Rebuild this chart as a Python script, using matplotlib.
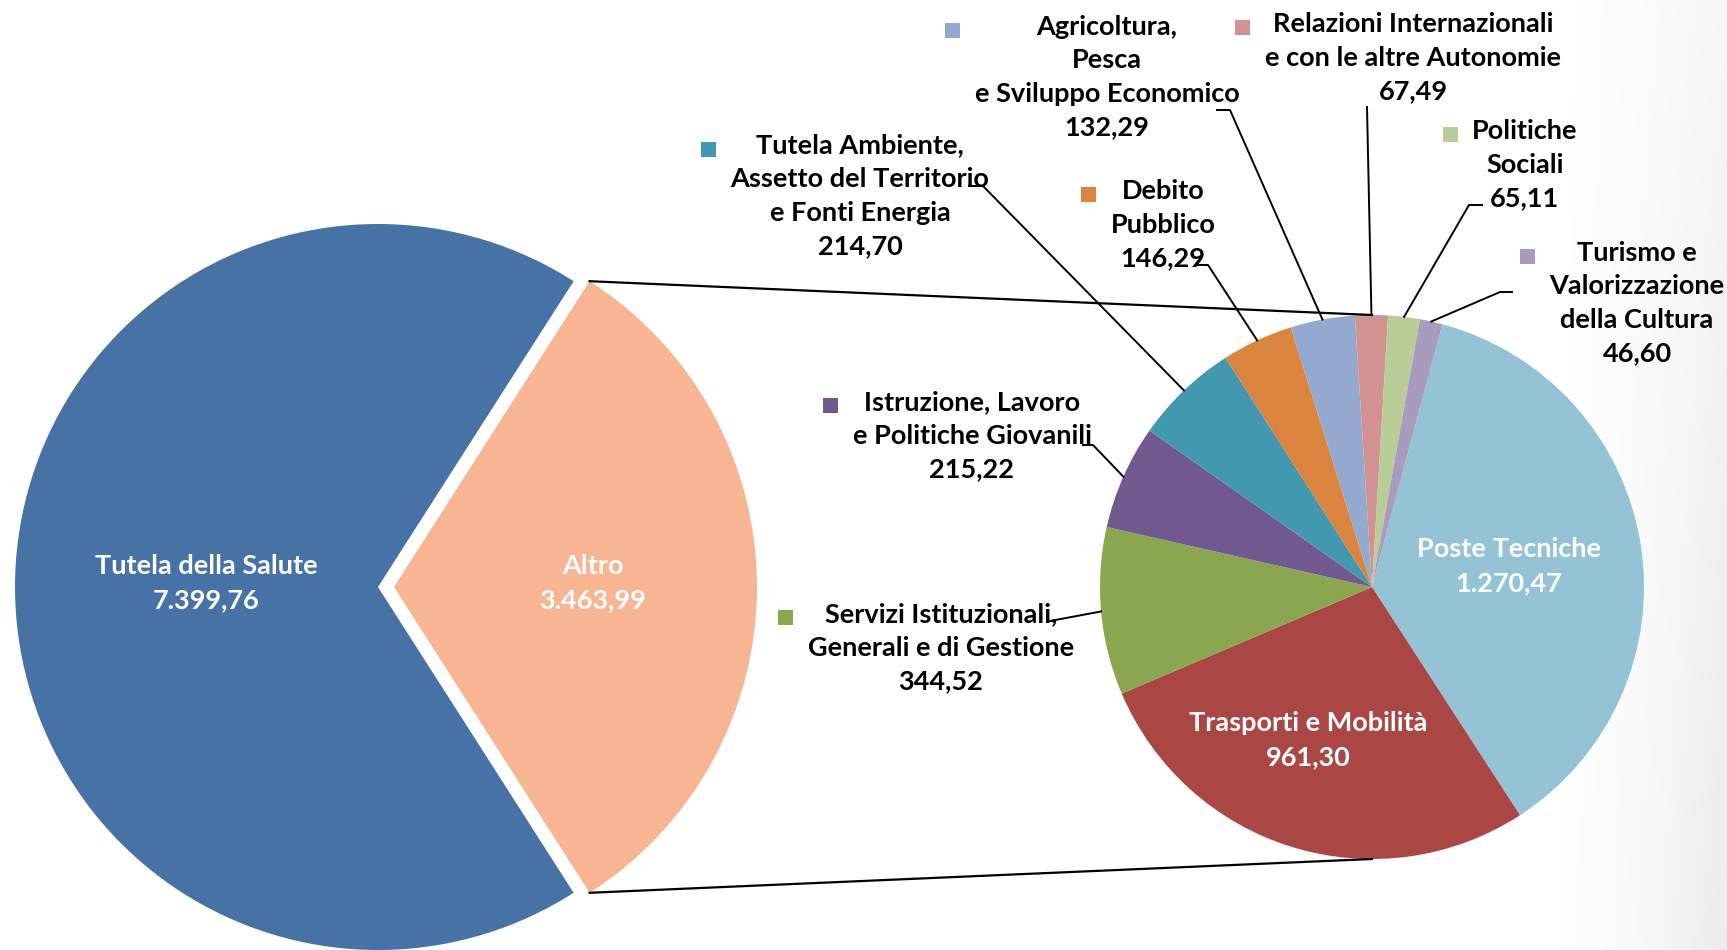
import numpy as np
import matplotlib.pyplot as plt
from matplotlib.patches import Rectangle

# --- data ---
main_labels = ["Altro", "Tutela della Salute"]
main_values = [3463.99, 7399.76]
main_value_text = ["3.463,99", "7.399,76"]
main_colors = ["#F8B592", "#4672A6"]

sub_labels = [
    "Poste Tecniche",
    "Trasporti e Mobilità",
    "Servizi Istituzionali,\nGenerali e di Gestione",
    "Istruzione, Lavoro\ne Politiche Giovanili",
    "Tutela Ambiente,\nAssetto del Territorio\ne Fonti Energia",
    "Debito\nPubblico",
    "Agricoltura,\nPesca\ne Sviluppo Economico",
    "Relazioni Internazionali\ne con le altre Autonomie",
    "Politiche\nSociali",
    "Turismo e\nValorizzazione\ndella Cultura",
]
sub_values = [1270.47, 961.30, 344.52, 215.22, 214.70, 146.29, 132.29, 67.49, 65.11, 46.60]
sub_value_text = ["1.270,47", "961,30", "344,52", "215,22", "214,70",
                  "146,29", "132,29", "67,49", "65,11", "46,60"]
sub_colors = ["#93C3D5", "#AA4644", "#8AA64F", "#71588F", "#4298AF",
              "#DB843D", "#93A9CF", "#D19392", "#B9CD96", "#A99BBD"]

# label layout (pixel coordinates, y from top)
sub_inside = [True, True] + [False] * 8
sub_label_pos = [(1509, 566), (1308, 740), (941, 648), (972, 436), (860, 196),
                 (1163, 225), (1107, 77), (1413, 58), (1525, 165), (1637, 303)]
sub_leader_start = [None, None,
                    [(1050, 621)],
                    [(1083, 445), (1093, 445)],
                    [(969, 186), (983, 186)],
                    [(1198, 265), (1208, 265)],
                    [(1217, 110), (1230, 110)],
                    [(1367, 107)],
                    [(1482, 205), (1469, 205)],
                    [(1512, 292), (1500, 292)]]

W, H = 1727, 950
plt.rcParams['font.family'] = ['Lato', 'DejaVu Sans']
fig = plt.figure(figsize=(W / 100, H / 100), dpi=100)
ax = fig.add_axes([0, 0, 1, 1])

# faint grey shading on the right edge
xs = np.linspace(0, 1, 200)
ys = np.linspace(0, 1, 200)
gx, gy = np.meshgrid(xs, ys)
shade = 1 - 0.075 * gx ** 1.6 * (0.5 + 0.5 * gy)
img = np.dstack([shade, shade, shade])
ax.imshow(img, extent=[1530, W, 0, H], origin='upper', aspect='auto', zorder=0)

# main pie (Altro pulled out towards the right)
c1, r1 = (378, 363), 363
gap = 16
altro_frac = main_values[0] / sum(main_values)
ax.pie(main_values, colors=main_colors, startangle=-180 * altro_frac,
       explode=[gap, 0], center=c1, radius=r1, counterclock=True,
       wedgeprops=dict(linewidth=0), frame=True)

# secondary pie
c2, r2 = (1372, 363), 272
wedges, _ = ax.pie(sub_values, colors=sub_colors, startangle=75, counterclock=False,
                   center=c2, radius=r2, wedgeprops=dict(linewidth=0), frame=True)
ax.set_xlim(0, W)
ax.set_ylim(0, H)
ax.set_aspect('equal')
ax.axis('off')

fs = 19.5
ls = 1.48

# connector lines between the pies
a = np.deg2rad(180 * altro_frac)
ox = c1[0] + gap
for s in (1, -1):
    ax.plot([ox + r1 * np.cos(a), c2[0]], [c1[1] + s * r1 * np.sin(a), c2[1] + s * r2],
            color='black', lw=1.6, zorder=3)

# main labels
ax.text(206, H - 583, f"{main_labels[1]}\n{main_value_text[1]}", ha='center', va='center',
        color='white', fontsize=fs, fontweight='bold', linespacing=ls)
ax.text(593, H - 583, f"{main_labels[0]}\n{main_value_text[0]}", ha='center', va='center',
        color='white', fontsize=fs, fontweight='bold', linespacing=ls)

texts = []
for i, w in enumerate(wedges):
    x, y = sub_label_pos[i]
    col = 'white' if sub_inside[i] else 'black'
    t = ax.text(x, H - y, f"{sub_labels[i]}\n{sub_value_text[i]}", ha='center', va='center',
                color=col, fontsize=fs, fontweight='bold', linespacing=ls, zorder=4)
    texts.append(t)
    if sub_leader_start[i] is not None:
        mid = np.deg2rad((w.theta1 + w.theta2) / 2)
        ex, ey = c2[0] + r2 * np.cos(mid), c2[1] + r2 * np.sin(mid)
        px = [p[0] for p in sub_leader_start[i]] + [ex]
        py = [H - p[1] for p in sub_leader_start[i]] + [ey]
        ax.plot(px, py, color='black', lw=1.4, zorder=3)

# legend keys next to outside labels
fig.canvas.draw()
renderer = fig.canvas.get_renderer()
inv = ax.transData.inverted()
for i, t in enumerate(texts):
    if sub_inside[i]:
        continue
    bb = t.get_window_extent(renderer)
    (x0, y0), (x1, y1) = inv.transform([(bb.x0, bb.y0), (bb.x1, bb.y1)])
    nlines = sub_labels[i].count("\n") + 2
    lh = (y1 - y0) / nlines
    ax.add_patch(Rectangle((x0 - 22 - 7.5, y1 - lh / 2 - 7.5), 15, 15,
                           facecolor=sub_colors[i], edgecolor='none', zorder=4))

fig.savefig("out.png", dpi=100)
